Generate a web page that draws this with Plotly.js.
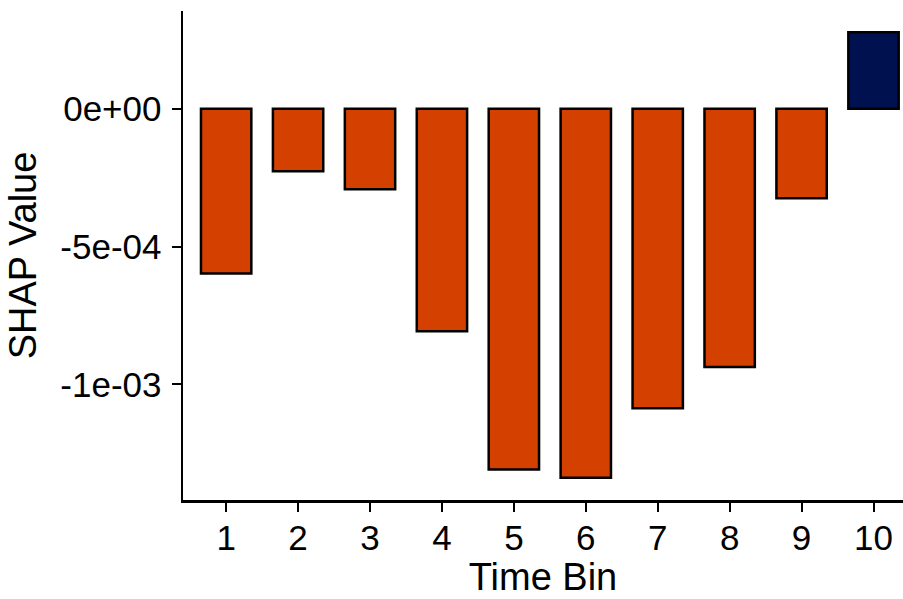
<!DOCTYPE html>
<html>
<head>
<meta charset="utf-8">
<script src="https://cdn.plot.ly/plotly-3.0.1.min.js"></script>
<style>html,body{margin:0;padding:0;background:#fff;}#chart{width:903px;height:599px;}</style>
</head>
<body>
<div id="chart"></div>
<script>
const timeBins = ["1","2","3","4","5","6","7","8","9","10"];
const shapValues = [-0.000598, -0.000227, -0.000292, -0.000807, -0.001308, -0.001338, -0.001086, -0.000937, -0.000325, 0.000277];
const yTickVals = [-0.001, -0.0005, 0];
const yTickText = ["-1e-03", "-5e-04", "0e+00"];
const negColor = "#D44000";
const posColor = "#00114F";

const barColors = shapValues.map(v => v < 0 ? negColor : posColor);

const trace = {
  type: "bar",
  x: timeBins,
  y: shapValues,
  width: 0.7,
  marker: {color: barColors, line: {color: "#000", width: 2.5}},
  hoverinfo: "x+y"
};

const font = {family: "Liberation Sans, Arial, sans-serif", color: "#000"};
const layout = {
  width: 903, height: 599,
  margin: {l: 183, r: 0, t: 11, b: 99, pad: 0},
  paper_bgcolor: "#fff", plot_bgcolor: "#fff",
  showlegend: false,
  font: font,
  xaxis: {
    type: "category",
    range: [-0.6, 9.41],
    showgrid: false, zeroline: false,
    showline: true, linecolor: "#000", linewidth: 2.5,
    ticks: "outside", ticklen: 9, tickwidth: 2, tickcolor: "#000",
    ticklabelstandoff: -4,
    tickfont: {family: font.family, size: 35, color: "#000"},
    title: {text: "Time Bin", font: {family: font.family, size: 38, color: "#000"}, standoff: 4},
    automargin: false
  },
  yaxis: {
    range: [-0.001419, 0.000354],
    showgrid: false, zeroline: false,
    showline: true, linecolor: "#000", linewidth: 2.5,
    ticks: "outside", ticklen: 9, tickwidth: 2, tickcolor: "#000",
    tickvals: yTickVals, ticktext: yTickText,
    ticklabelstandoff: 3,
    tickfont: {family: font.family, size: 35, color: "#000"},
    title: {text: "SHAP Value", font: {family: font.family, size: 38, color: "#000"}, standoff: 12},
    automargin: false
  }
};

Plotly.newPlot("chart", [trace], layout, {displayModeBar: false, staticPlot: true});
</script>
</body>
</html>
